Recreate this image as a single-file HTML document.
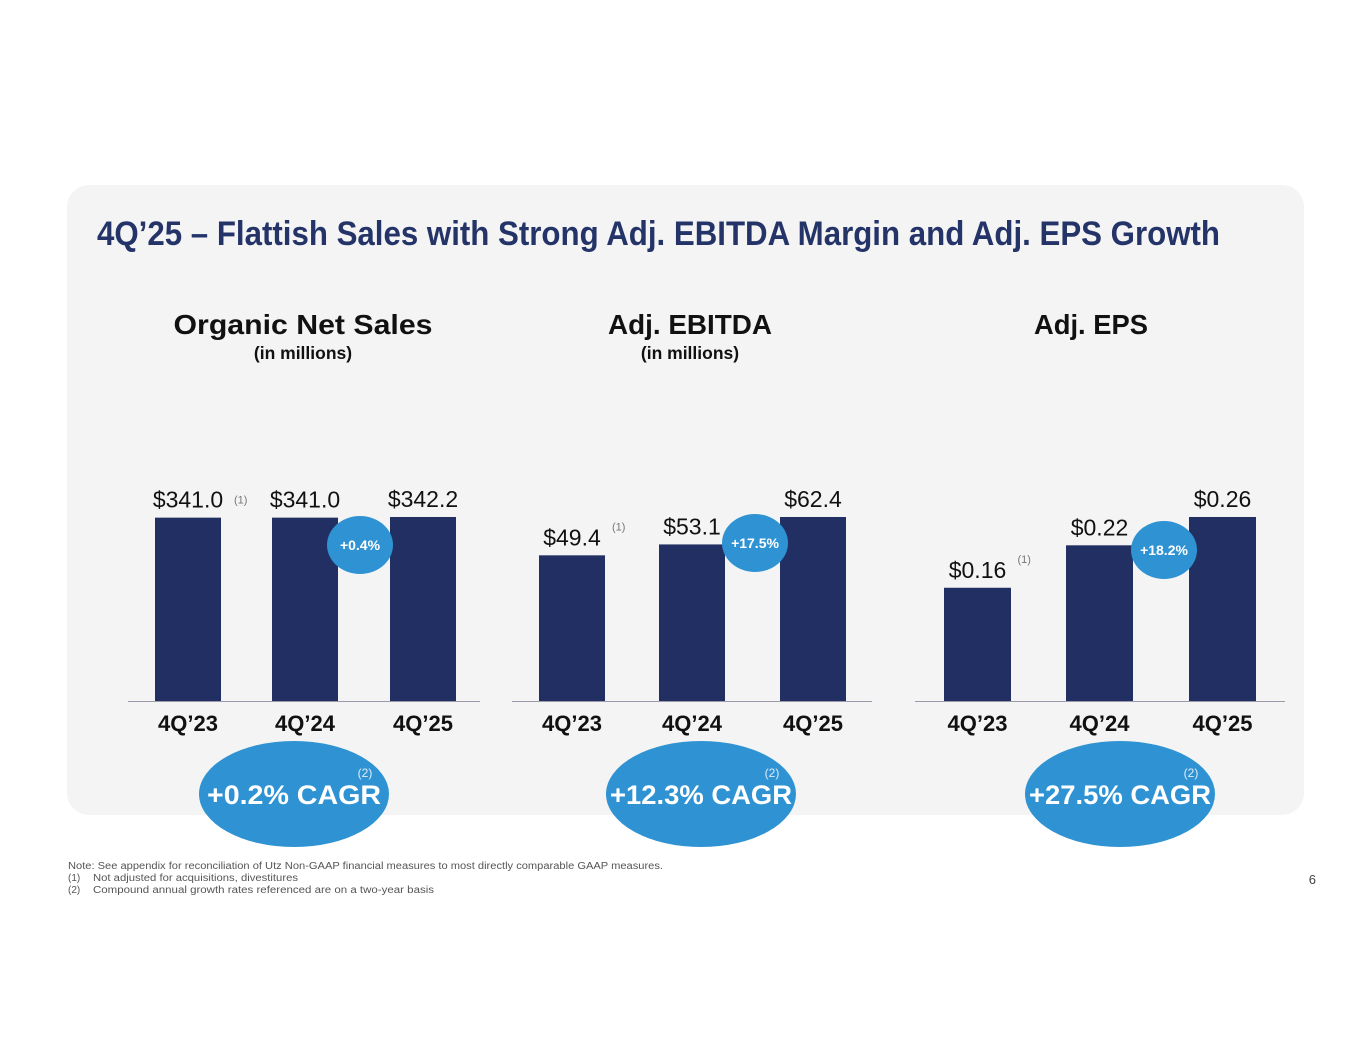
<!DOCTYPE html>
<html><head><meta charset="utf-8"><style>
html,body{margin:0;padding:0;background:#fff;}
svg{display:block;font-family:"Liberation Sans",sans-serif;}
</style></head><body>
<svg id="s" width="1365" height="1055" viewBox="0 0 1365 1055">
<rect x="67" y="185" width="1237" height="630" rx="22" fill="#f4f4f4"/>
<text x="97" y="245" font-size="34" font-weight="bold" fill="#243468" textLength="1123" lengthAdjust="spacingAndGlyphs">4Q’25 – Flattish Sales with Strong Adj. EBITDA Margin and Adj. EPS Growth</text>
<g id="charts"></g>
<text x="68" y="869" font-size="10" fill="#555" textLength="595" lengthAdjust="spacingAndGlyphs">Note: See appendix for reconciliation of Utz Non-GAAP financial measures to most directly comparable GAAP measures.</text>
<text x="68" y="881" font-size="10" fill="#555">(1)</text>
<text x="93" y="881" font-size="10" fill="#555" textLength="205" lengthAdjust="spacingAndGlyphs">Not adjusted for acquisitions, divestitures</text>
<text x="68" y="893" font-size="10" fill="#555">(2)</text>
<text x="93" y="893" font-size="10" fill="#555" textLength="341" lengthAdjust="spacingAndGlyphs">Compound annual growth rates referenced are on a two-year basis</text>
<text x="1316" y="884" font-size="13" fill="#444" text-anchor="end">6</text>
</svg>
<script>
const categories = ["4Q’23","4Q’24","4Q’25"];
const salesValues = [341.0, 341.0, 342.2];
const ebitdaValues = [49.4, 53.1, 62.4];
const epsValues = [0.16, 0.22, 0.26];
const salesLabels = ["$341.0","$341.0","$342.2"];
const ebitdaLabels = ["$49.4","$53.1","$62.4"];
const epsLabels = ["$0.16","$0.22","$0.26"];
const growthLabels = ["+0.4%","+17.5%","+18.2%"];
const cagrLabels = ["+0.2% CAGR","+12.3% CAGR","+27.5% CAGR"];
const chartTitles = ["Organic Net Sales","Adj. EBITDA","Adj. EPS"];
const chartSubtitles = ["(in millions)","(in millions)",""];

const NS="http://www.w3.org/2000/svg";
const root=document.getElementById('charts');
function mk(tag,attrs,parent,text){const e=document.createElementNS(NS,tag);for(const k in attrs)e.setAttribute(k,attrs[k]);if(text!==undefined)e.textContent=text;(parent||root).appendChild(e);return e;}

const layouts=[
 {axisX0:128,axisX1:480,bars:[155,272,390],bw:66,titleX:303,titleW:259,gx:360,gy:545,cx:294},
 {axisX0:512,axisX1:872,bars:[539,659,780],bw:66,titleX:690,titleW:164,gx:755,gy:543,cx:701},
 {axisX0:915,axisX1:1285,bars:[944,1066,1189],bw:67,titleX:1091,titleW:114,gx:1164,gy:550,cx:1120}
];
const series=[salesValues,ebitdaValues,epsValues];
const labels=[salesLabels,ebitdaLabels,epsLabels];
const baseY=701, maxH=184;

layouts.forEach((L,ci)=>{
  const g=mk('g',{});
  
  
  const vals=series[ci];
  const mx=Math.max(...vals);
  const yScale=v=>baseY - v/mx*maxH;
  const t=mk('text',{x:L.titleX,y:334,'font-size':28,'font-weight':'bold','text-anchor':'middle',fill:'#111',textLength:L.titleW,lengthAdjust:'spacingAndGlyphs'},g,chartTitles[ci]);
  
  
  if(chartSubtitles[ci]){
    const st=mk('text',{x:L.titleX,y:359,'font-size':17.5,'font-weight':'bold','text-anchor':'middle',fill:'#111'},g,chartSubtitles[ci]);
    
    
  }
  vals.forEach((v,i)=>{
    const x=L.bars[i], y=yScale(v);
    const b=mk('rect',{x:x,y:y,width:L.bw,height:baseY-y,fill:'#222f63'},g);
    
    
    const lb=mk('text',{x:x+L.bw/2,y:y-10,'font-size':23,'text-anchor':'middle',fill:'#111'},g,labels[ci][i]);
    
    
    if(i===0){
      const fn=mk('text',{x:x+L.bw/2+(ci===0?46:40),y:ci===0?y-14:y-25,'font-size':11,fill:'#777'},g,'(1)');
      
      
    }
    const cl=mk('text',{x:x+L.bw/2,y:731,'font-size':22,'font-weight':'bold','text-anchor':'middle',fill:'#111'},g,categories[i]);
    
    
  });
  const ax=mk('line',{x1:L.axisX0,x2:L.axisX1,y1:baseY+0.5,y2:baseY+0.5,stroke:'#9a9aa8','stroke-width':1},g);
  
  
  const ge=mk('ellipse',{cx:L.gx,cy:L.gy,rx:33,ry:29,fill:'#2f93d3'},g);
  
  
  const gt=mk('text',{x:L.gx,y:L.gy+5,'font-size':14,'font-weight':'bold','text-anchor':'middle',fill:'#fff'},g,growthLabels[ci]);
  
  
  const ce=mk('ellipse',{cx:L.cx,cy:794,rx:95,ry:53,fill:'#2f93d3'},g);
  
  
  const ct=mk('text',{x:L.cx,y:804,'font-size':27,'font-weight':'bold','text-anchor':'middle',fill:'#fff',textLength:ci===0?174:182,lengthAdjust:'spacingAndGlyphs'},g,cagrLabels[ci]);
  
  
  const cf=mk('text',{x:L.cx+71,y:777,'font-size':12,'text-anchor':'middle',fill:'#e0eefa'},g,'(2)');
  
  
});
</script>
</body></html>
